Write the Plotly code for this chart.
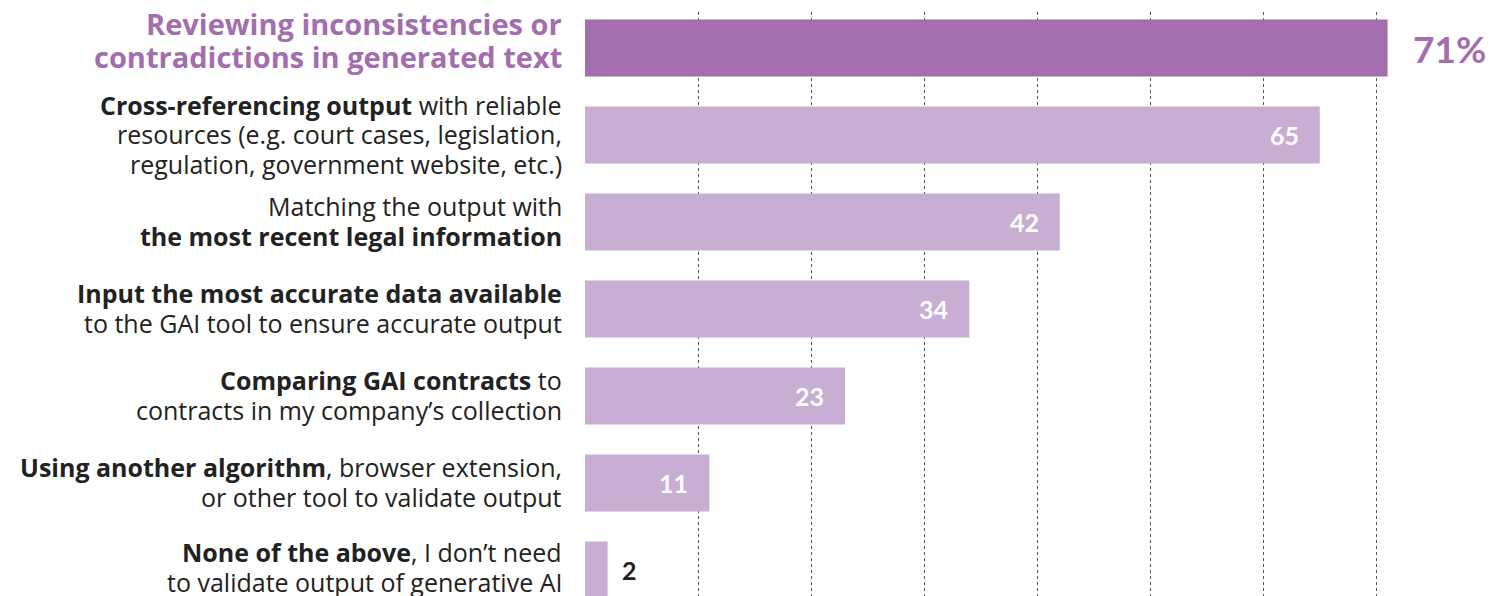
import plotly.graph_objects as go

categories = [
    "Reviewing inconsistencies or<br>contradictions in generated text",
    "<b>Cross-referencing output</b> with reliable<br>resources (e.g. court cases, legislation,<br>regulation, government website, etc.)",
    "Matching the output with<br><b>the most recent legal information</b>",
    "<b>Input the most accurate data available</b><br>to the GAI tool to ensure accurate output",
    "<b>Comparing GAI contracts</b> to<br>contracts in my company’s collection",
    "<b>Using another algorithm</b>, browser extension,<br>or other tool to validate output",
    "<b>None of the above</b>, I don’t need<br>to validate output of generative AI",
]
values = [71, 65, 42, 34, 23, 11, 2]
value_labels = ["71%", "65", "42", "34", "23", "11", "2"]

DARK = "#A26EAD"
LIGHT = "#C9AED4"
FONT = "Open Sans"
NUMFONT = "Lato"

keys = [f"c{i}" for i in range(len(categories))]
colors = [DARK] + [LIGHT] * (len(values) - 1)

fig = go.Figure(go.Bar(
    x=values, y=keys, orientation="h",
    marker=dict(color=colors, line=dict(width=0)),
    width=0.655, hoverinfo="skip",
))

ann = []
for i, (k, cat, v, lab) in enumerate(zip(keys, categories, values, value_labels)):
    lines = cat.split("<br>")
    n = len(lines)
    if i == 0:
        spacing, size, color, base, lines = 33, 29, DARK, 8, [f"<b>{l}</b>" for l in lines]
    else:
        spacing, size, color = 29.5, 25, "#222222"
        base = 3 if i == len(categories) - 1 else 1
    for j, line in enumerate(lines):
        off = (j - (n - 1) / 2) * spacing
        ann.append(dict(x=0, xref="paper", y=k, yref="y", text=line,
                        xanchor="right", yanchor="middle", xshift=-21, yshift=base - off,
                        showarrow=False, font=dict(family=FONT, size=size, color=color)))
    if i == 0:
        ann.append(dict(x=v, xref="x", y=k, yref="y", text=f"<b>{lab}</b>",
                        xanchor="left", xshift=23, showarrow=False,
                        font=dict(family=NUMFONT, size=37, color=DARK)))
    elif v >= 5:
        ann.append(dict(x=v, xref="x", y=k, yref="y", text=f"<b>{lab}</b>",
                        xanchor="right", xshift=-19, showarrow=False,
                        font=dict(family=NUMFONT, size=25, color="white")))
    else:
        ann.append(dict(x=v, xref="x", y=k, yref="y", text=f"<b>{lab}</b>",
                        xanchor="left", xshift=12, showarrow=False,
                        font=dict(family=NUMFONT, size=25, color="#222222")))

fig.update_layout(
    width=1502, height=596,
    margin=dict(l=585, r=24, t=12, b=0),
    paper_bgcolor="white", plot_bgcolor="white",
    showlegend=False,
    annotations=ann,
    xaxis=dict(range=[0, 79], tickvals=[10, 20, 30, 40, 50, 60, 70],
               showticklabels=False, showgrid=True, gridcolor="#555555",
               griddash="dot", gridwidth=1, zeroline=False, showline=False, ticks=""),
    yaxis=dict(categoryorder="array", categoryarray=keys, range=[6.299, -0.4138],
               showticklabels=False, showgrid=False, zeroline=False, showline=False, ticks=""),
)

fig.write_html("out.html", config={"displayModeBar": False},
               post_script="document.body.style.margin='0';document.body.style.overflow='hidden';")
